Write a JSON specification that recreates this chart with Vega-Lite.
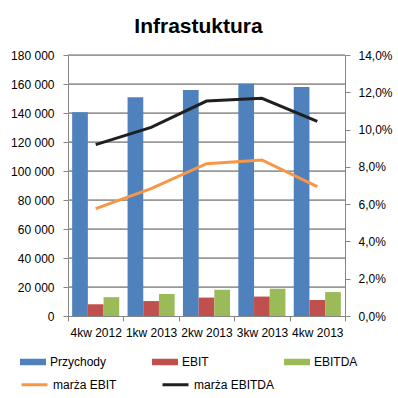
{
  "$schema": "https://vega.github.io/schema/vega-lite/v6.json",
  "width": 277,
  "height": 261,
  "autosize": "none",
  "padding": {"left": 68, "top": 55, "right": 53, "bottom": 82},
  "background": "white",
  "title": {
    "text": "Infrastuktura",
    "font": "Liberation Sans",
    "fontSize": 21,
    "fontWeight": "bold",
    "color": "#000000",
    "anchor": "middle",
    "dx": -8,
    "offset": 12
  },
  "config": {
    "locale": {"number": {"decimal": ",", "thousands": " ", "grouping": [3], "currency": ["", " zł"]}},
    "view": {"stroke": null},
    "font": "Liberation Sans",
    "axis": {
      "labelFont": "Liberation Sans",
      "labelFontSize": 12,
      "labelColor": "#000000",
      "labelOverlap": false,
      "domainColor": "#868686",
      "tickColor": "#868686",
      "tickSize": 5,
      "title": null
    },
    "legend": {
      "labelFont": "Liberation Sans",
      "labelFontSize": 12,
      "labelColor": "#000000"
    }
  },
  "datasets": {
    "siatka": [
      {"wartosc": 20000}, {"wartosc": 40000}, {"wartosc": 60000}, {"wartosc": 80000},
      {"wartosc": 100000}, {"wartosc": 120000}, {"wartosc": 140000}, {"wartosc": 160000}, {"wartosc": 180000}
    ],
    "bars": [
      {"kwartal": "4kw 2012", "seria": "Przychody", "wartosc": 140500},
      {"kwartal": "1kw 2013", "seria": "Przychody", "wartosc": 150800},
      {"kwartal": "2kw 2013", "seria": "Przychody", "wartosc": 155900},
      {"kwartal": "3kw 2013", "seria": "Przychody", "wartosc": 160200},
      {"kwartal": "4kw 2013", "seria": "Przychody", "wartosc": 157900},
      {"kwartal": "4kw 2012", "seria": "EBIT", "wartosc": 8100},
      {"kwartal": "1kw 2013", "seria": "EBIT", "wartosc": 10300},
      {"kwartal": "2kw 2013", "seria": "EBIT", "wartosc": 12700},
      {"kwartal": "3kw 2013", "seria": "EBIT", "wartosc": 13400},
      {"kwartal": "4kw 2013", "seria": "EBIT", "wartosc": 11000},
      {"kwartal": "4kw 2012", "seria": "EBITDA", "wartosc": 13000},
      {"kwartal": "1kw 2013", "seria": "EBITDA", "wartosc": 15200},
      {"kwartal": "2kw 2013", "seria": "EBITDA", "wartosc": 18100},
      {"kwartal": "3kw 2013", "seria": "EBITDA", "wartosc": 18800},
      {"kwartal": "4kw 2013", "seria": "EBITDA", "wartosc": 16500}
    ],
    "lines": [
      {"kwartal": "4kw 2012", "seria": "marża EBIT", "wartosc": 0.0576},
      {"kwartal": "1kw 2013", "seria": "marża EBIT", "wartosc": 0.0683},
      {"kwartal": "2kw 2013", "seria": "marża EBIT", "wartosc": 0.0817},
      {"kwartal": "3kw 2013", "seria": "marża EBIT", "wartosc": 0.0837},
      {"kwartal": "4kw 2013", "seria": "marża EBIT", "wartosc": 0.0694},
      {"kwartal": "4kw 2012", "seria": "marża EBITDA", "wartosc": 0.0919},
      {"kwartal": "1kw 2013", "seria": "marża EBITDA", "wartosc": 0.1012},
      {"kwartal": "2kw 2013", "seria": "marża EBITDA", "wartosc": 0.1153},
      {"kwartal": "3kw 2013", "seria": "marża EBITDA", "wartosc": 0.1168},
      {"kwartal": "4kw 2013", "seria": "marża EBITDA", "wartosc": 0.1044}
    ]
  },
  "layer": [
    {
      "layer": [
        {
          "data": {"name": "siatka"},
          "mark": {"type": "rule", "stroke": "#999999", "strokeWidth": 1.5},
          "encoding": {
            "y": {
              "field": "wartosc", "type": "quantitative",
              "scale": {"domain": [0, 180000], "nice": false},
              "axis": {"orient": "left", "format": ",.0f", "values": [0,20000,40000,60000,80000,100000,120000,140000,160000,180000], "labelOverlap": false, "grid": true, "gridColor": "#999999", "labelPadding": 9}
            }
          }
        },
        {
          "data": {"name": "bars"},
          "mark": {"type": "bar"},
          "encoding": {
            "x": {
              "field": "kwartal", "type": "nominal", "sort": null,
              "scale": {"paddingInner": 0, "paddingOuter": 0},
              "axis": {"labelAngle": 0, "ticks": true, "tickBand": "extent", "labelPadding": 6, "domain": true, "grid": false}
            },
            "xOffset": {
              "field": "seria", "type": "nominal",
              "sort": ["Przychody", "EBIT", "EBITDA"],
              "scale": {"paddingInner": 0, "paddingOuter": 0.265}
            },
            "y": {
              "field": "wartosc", "type": "quantitative",
              "scale": {"domain": [0, 180000], "nice": false},
              "axis": {"orient": "left", "format": ",.0f", "values": [0,20000,40000,60000,80000,100000,120000,140000,160000,180000], "labelOverlap": false, "grid": true, "gridColor": "#999999", "labelPadding": 9}
            },
            "fill": {
              "field": "seria", "type": "nominal",
              "scale": {"domain": ["Przychody", "EBIT", "EBITDA"], "range": ["#4F81BD", "#C0504D", "#9BBB59"]},
              "legend": {
                "title": null, "orient": "none", "legendX": -48, "legendY": 294,
                "direction": "horizontal", "columns": 3, "gridAlign": "all",
                "columnPadding": 45,
                "symbolType": "M-1,-0.25H1V0.25H-1Z", "symbolSize": 676,
                "symbolStrokeWidth": 0, "labelOffset": 4
              }
            }
          }
        }
      ]
    },
    {
      "data": {"name": "lines"},
      "mark": {"type": "line", "strokeWidth": 3},
      "encoding": {
        "x": {"field": "kwartal", "type": "nominal", "sort": null},
        "y": {
          "field": "wartosc", "type": "quantitative",
          "scale": {"domain": [0, 0.14], "nice": false},
          "axis": {"orient": "right", "format": ".1%", "values": [0,0.02,0.04,0.06,0.08,0.1,0.12,0.14], "grid": false, "labelPadding": 8}
        },
        "stroke": {
          "field": "seria", "type": "nominal",
          "scale": {"domain": ["marża EBIT", "marża EBITDA"], "range": ["#F79646", "#1F1F1F"]},
          "legend": {
            "title": null, "orient": "none", "legendX": -48, "legendY": 315,
            "direction": "horizontal", "columns": 3, "gridAlign": "all",
            "columnPadding": 22,
            "symbolType": "M-1,0H1", "symbolSize": 676,
            "symbolStrokeWidth": 3, "labelOffset": 4
          }
        }
      }
    }
  ],
  "resolve": {"scale": {"y": "independent"}}
}
